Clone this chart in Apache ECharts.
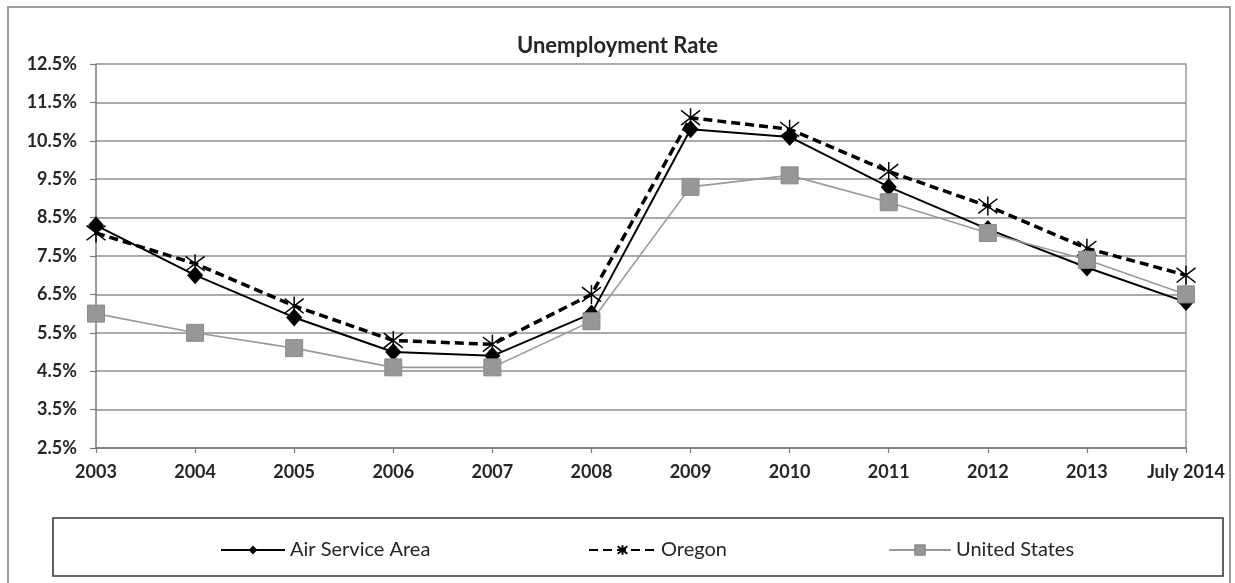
<!DOCTYPE html>
<html>
<head>
<meta charset="utf-8">
<title>Unemployment Rate</title>
<script src="https://cdn.jsdelivr.net/npm/echarts@6/dist/echarts.min.js"></script>
<style>
  html, body { margin: 0; padding: 0; background: #fff; }
  #chart { width: 1235px; height: 583px; }
</style>
</head>
<body>
<div id="chart"></div>
<script>
// Years on the horizontal axis
const years = ['2003', '2004', '2005', '2006', '2007', '2008', '2009', '2010', '2011', '2012', '2013', 'July 2014'];

// Unemployment rate, percent
const airServiceArea = [8.3, 7.0, 5.9, 5.0, 4.9, 6.0, 10.8, 10.6, 9.3, 8.2, 7.2, 6.3];
const oregon         = [8.1, 7.3, 6.2, 5.3, 5.2, 6.5, 11.1, 10.8, 9.7, 8.8, 7.7, 7.0];
const unitedStates   = [6.0, 5.5, 5.1, 4.6, 4.6, 5.8, 9.3, 9.6, 8.9, 8.1, 7.4, 6.5];

// Value axis range and step
const yMin = 2.5;
const yMax = 12.5;
const yStep = 1;

const seriesNames = ['Air Service Area', 'Oregon', 'United States'];

const FONT = 'Lato, "Open Sans", sans-serif';
const GRID_GRAY = '#8e8e8e';
const TEXT = '#262626';

// Asterisk marker: an X crossed by a vertical stroke
const STAR = 'path://M0,0L10,10M10,0L0,10M5,-1.5L5,11.5';

const chart = echarts.init(document.getElementById('chart'), null, { renderer: 'canvas' });

const legendBase = {
  orient: 'horizontal',
  top: 535,
  itemGap: 0,
  textStyle: { fontFamily: FONT, fontSize: 20, color: TEXT },
  selectedMode: false
};

chart.setOption({
  animation: false,
  backgroundColor: '#fff',
  title: {
    text: 'Unemployment Rate',
    left: 'center',
    top: 30,
    textStyle: { fontFamily: FONT, fontSize: 22, fontWeight: 'bold', color: TEXT }
  },
  graphic: [
    {
      type: 'rect',
      shape: { x: 8, y: 7, width: 1222, height: 590 },
      style: { fill: 'none', stroke: '#9d9d9d', lineWidth: 2 },
      silent: true,
      z: -1
    },
    {
      type: 'rect',
      shape: { x: 53, y: 518, width: 1170, height: 58 },
      style: { fill: 'none', stroke: '#3a3a3a', lineWidth: 1.6 },
      silent: true
    }
  ],
  legend: [
    Object.assign({}, legendBase, { left: 215, itemWidth: 64, itemHeight: 11, data: [seriesNames[0]] }),
    Object.assign({}, legendBase, { left: 583, itemWidth: 67, itemHeight: 12, data: [seriesNames[1]] }),
    Object.assign({}, legendBase, { left: 883, itemWidth: 62, itemHeight: 12, data: [seriesNames[2]] })
  ],
  grid: { left: 96, right: 49, top: 64, bottom: 135, containLabel: false },
  xAxis: {
    type: 'category',
    data: years,
    boundaryGap: false,
    axisLine: { show: true, lineStyle: { color: '#7a7a7a', width: 1.5 } },
    axisTick: { show: true, alignWithLabel: true, length: 5, lineStyle: { color: '#7a7a7a', width: 1.2 } },
    axisLabel: {
      margin: 15,
      fontFamily: FONT, fontSize: 18, fontWeight: 'bold', color: TEXT,
      interval: 0
    },
    splitLine: { show: false }
  },
  yAxis: [
    {
      type: 'value',
      min: yMin,
      max: yMax,
      interval: yStep,
      axisLine: { show: true, lineStyle: { color: '#7a7a7a', width: 1.5 } },
      axisTick: { show: true, length: 6, lineStyle: { color: '#7a7a7a', width: 1.2 } },
      axisLabel: {
        margin: 19,
        fontFamily: FONT, fontSize: 18, fontWeight: 'bold', color: TEXT,
        formatter: v => v.toFixed(1) + '%'
      },
      splitLine: { show: true, lineStyle: { color: GRID_GRAY, width: 1.5 } }
    },
    {
      // right-hand frame of the plot area
      type: 'value',
      position: 'right',
      min: yMin,
      max: yMax,
      interval: yStep,
      axisLine: { show: true, lineStyle: { color: '#9a9a9a', width: 1.5 } },
      axisTick: { show: false },
      axisLabel: { show: false },
      splitLine: { show: false }
    }
  ],
  series: [
    {
      name: seriesNames[0],
      type: 'line',
      data: airServiceArea,
      symbol: 'diamond',
      symbolSize: [16, 18],
      lineStyle: { color: '#000', width: 2 },
      itemStyle: { color: '#000' },
      z: 2
    },
    {
      name: seriesNames[1],
      type: 'line',
      data: oregon,
      symbol: STAR,
      symbolSize: 19,
      lineStyle: { color: '#000', width: 3.5, type: [9, 5] },
      itemStyle: { color: 'rgba(0,0,0,0)', borderColor: '#000', borderWidth: 1.5 },
      z: 3
    },
    {
      name: seriesNames[2],
      type: 'line',
      data: unitedStates,
      symbol: 'rect',
      symbolSize: 17,
      lineStyle: { color: '#9a9a9a', width: 1.6 },
      itemStyle: { color: '#979797', borderColor: '#8a8a8a', borderWidth: 1 },
      z: 4
    }
  ]
});
</script>
</body>
</html>
